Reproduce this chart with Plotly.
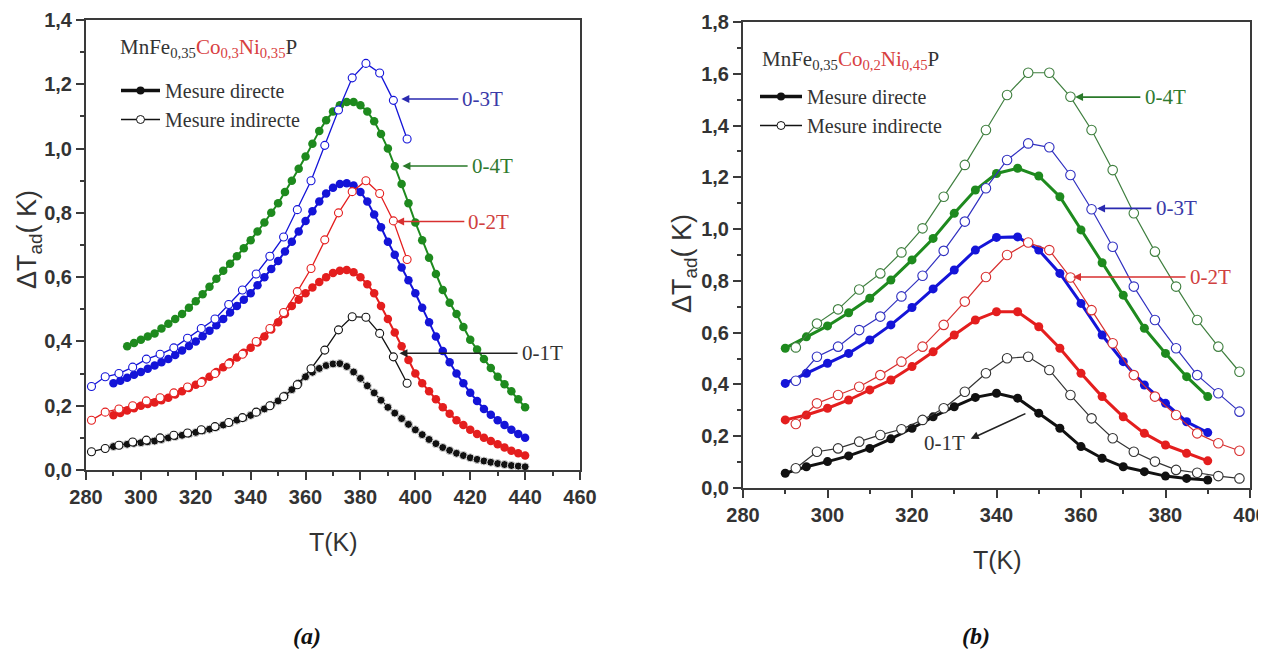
import plotly.graph_objects as go

W, H = 1266, 652
OFF = 8  # page body margin: figure pixel (x, y) is shown at (x + 8, y + 8)

def fx(px):
    return (px - OFF) / W

def fy(py):
    return 1 - (py - OFF) / H

# ---------------- Panel (a): MnFe0,35Co0,3Ni0,35P ----------------
a_T_direct = [290, 292.5, 295, 297.5, 300, 302.5, 305, 307.5, 310, 312.5,
              315, 317.5, 320, 322.5, 325, 327.5, 330, 332.5, 335, 337.5,
              340, 342.5, 345, 347.5, 350, 352.5, 355, 357.5, 360, 362.5,
              365, 367.5, 370, 372.5, 375, 377.5, 380, 382.5, 385, 387.5,
              390, 392.5, 395, 397.5, 400, 402.5, 405, 407.5, 410, 412.5,
              415, 417.5, 420, 422.5, 425, 427.5, 430, 432.5, 435, 437.5, 440]
a_T_direct_4T = a_T_direct[2:]

a_direct_4T = [0.385, 0.395, 0.405, 0.415, 0.425, 0.440, 0.455, 0.470, 0.485, 0.505,
               0.525, 0.547, 0.570, 0.595, 0.620, 0.642, 0.665, 0.690, 0.715, 0.742,
               0.770, 0.800, 0.830, 0.865, 0.900, 0.937, 0.975, 1.015, 1.055, 1.088,
               1.115, 1.135, 1.145, 1.145, 1.135, 1.115, 1.085, 1.045, 1.000, 0.945,
               0.890, 0.830, 0.770, 0.715, 0.660, 0.610, 0.560, 0.520, 0.485, 0.445,
               0.405, 0.375, 0.345, 0.317, 0.290, 0.267, 0.245, 0.220, 0.195]
a_direct_3T = [0.270, 0.278, 0.287, 0.296, 0.305, 0.315, 0.325, 0.335, 0.345, 0.358,
               0.372, 0.386, 0.400, 0.416, 0.433, 0.450, 0.470, 0.490, 0.510, 0.530,
               0.550, 0.575, 0.600, 0.625, 0.650, 0.680, 0.710, 0.742, 0.775, 0.805,
               0.835, 0.860, 0.878, 0.890, 0.892, 0.885, 0.865, 0.835, 0.795, 0.755,
               0.710, 0.670, 0.630, 0.590, 0.550, 0.505, 0.460, 0.415, 0.370, 0.335,
               0.300, 0.270, 0.240, 0.215, 0.190, 0.172, 0.155, 0.140, 0.125, 0.112,
               0.100]
a_direct_2T = [0.170, 0.177, 0.185, 0.192, 0.200, 0.205, 0.210, 0.217, 0.225, 0.235,
               0.245, 0.255, 0.265, 0.277, 0.290, 0.305, 0.320, 0.335, 0.350, 0.365,
               0.380, 0.397, 0.415, 0.437, 0.460, 0.485, 0.510, 0.530, 0.550, 0.568,
               0.585, 0.600, 0.613, 0.620, 0.622, 0.615, 0.600, 0.578, 0.550, 0.510,
               0.470, 0.428, 0.385, 0.342, 0.300, 0.270, 0.245, 0.220, 0.195, 0.175,
               0.155, 0.140, 0.125, 0.112, 0.100, 0.090, 0.080, 0.070, 0.060, 0.052,
               0.045]
a_direct_1T = [0.073, 0.077, 0.080, 0.083, 0.085, 0.088, 0.090, 0.095, 0.100, 0.104,
               0.108, 0.112, 0.117, 0.122, 0.127, 0.133, 0.140, 0.147, 0.155, 0.162,
               0.170, 0.180, 0.190, 0.202, 0.215, 0.232, 0.250, 0.270, 0.290, 0.304,
               0.316, 0.325, 0.330, 0.331, 0.322, 0.305, 0.285, 0.262, 0.240, 0.217,
               0.195, 0.177, 0.160, 0.142, 0.125, 0.110, 0.095, 0.082, 0.070, 0.061,
               0.052, 0.045, 0.038, 0.033, 0.028, 0.024, 0.020, 0.017, 0.014, 0.012,
               0.010]

a_T_indirect = [282, 287, 292, 297, 302, 307, 312, 317, 322, 327, 332, 337,
                342, 347, 352, 357, 362, 367, 372, 377, 382, 387, 392, 397]
a_indirect_3T = [0.26, 0.29, 0.30, 0.32, 0.345, 0.36, 0.38, 0.41, 0.44, 0.47, 0.515, 0.56,
                 0.61, 0.665, 0.725, 0.81, 0.90, 1.01, 1.12, 1.22, 1.265, 1.235, 1.15, 1.03]
a_indirect_2T = [0.155, 0.18, 0.19, 0.20, 0.215, 0.225, 0.24, 0.258, 0.272, 0.30, 0.33, 0.36,
                 0.40, 0.44, 0.49, 0.555, 0.627, 0.716, 0.80, 0.866, 0.90, 0.86, 0.775, 0.655]
a_indirect_1T = [0.057, 0.067, 0.077, 0.087, 0.093, 0.10, 0.108, 0.115, 0.125, 0.135, 0.148, 0.163,
                 0.18, 0.20, 0.228, 0.265, 0.315, 0.373, 0.436, 0.477, 0.475, 0.425, 0.352, 0.27]

# ---------------- Panel (b): MnFe0,35Co0,2Ni0,45P ----------------
b_T_direct = [290, 295, 300, 305, 310, 315, 320, 325, 330, 335, 340,
              345, 350, 355, 360, 365, 370, 375, 380, 385, 390]
b_direct_4T = [0.54, 0.584, 0.626, 0.677, 0.733, 0.803, 0.881, 0.964, 1.061, 1.151, 1.215,
               1.235, 1.205, 1.125, 0.997, 0.87, 0.745, 0.617, 0.52, 0.43, 0.353]
b_direct_3T = [0.404, 0.443, 0.482, 0.52, 0.572, 0.63, 0.697, 0.769, 0.842, 0.919, 0.968,
               0.97, 0.919, 0.829, 0.713, 0.591, 0.488, 0.398, 0.327, 0.256, 0.214]
b_direct_2T = [0.263, 0.282, 0.308, 0.34, 0.379, 0.417, 0.469, 0.526, 0.591, 0.649, 0.681,
               0.681, 0.623, 0.54, 0.443, 0.353, 0.275, 0.211, 0.166, 0.134, 0.105]
b_direct_1T = [0.057, 0.082, 0.102, 0.124, 0.153, 0.19, 0.231, 0.275, 0.314, 0.35, 0.366,
               0.347, 0.289, 0.231, 0.16, 0.115, 0.082, 0.063, 0.046, 0.037, 0.031]

b_T_indirect = [292.5, 297.5, 302.5, 307.5, 312.5, 317.5, 322.5, 327.5, 332.5, 337.5, 342.5,
                347.5, 352.5, 357.5, 362.5, 367.5, 372.5, 377.5, 382.5, 387.5, 392.5, 397.5]
b_indirect_4T = [0.543, 0.635, 0.69, 0.767, 0.829, 0.91, 1.003, 1.125, 1.248, 1.383, 1.518,
                 1.604, 1.604, 1.511, 1.383, 1.228, 1.061, 0.913, 0.778, 0.649, 0.546, 0.449]
b_indirect_3T = [0.414, 0.507, 0.546, 0.61, 0.662, 0.74, 0.82, 0.916, 1.029, 1.158, 1.267,
                 1.331, 1.316, 1.209, 1.077, 0.932, 0.778, 0.649, 0.54, 0.436, 0.366, 0.295]
b_indirect_2T = [0.247, 0.327, 0.359, 0.391, 0.436, 0.488, 0.546, 0.63, 0.72, 0.815, 0.90,
                 0.948, 0.919, 0.813, 0.687, 0.559, 0.436, 0.353, 0.282, 0.211, 0.173, 0.144]
b_indirect_1T = [0.076, 0.14, 0.153, 0.179, 0.205, 0.227, 0.263, 0.308, 0.372, 0.443, 0.501,
                 0.507, 0.456, 0.359, 0.269, 0.192, 0.14, 0.102, 0.07, 0.059, 0.046, 0.037]

# ticks
a_xticks = [280, 300, 320, 340, 360, 380, 400, 420, 440, 460]
a_yticks = [0, 0.2, 0.4, 0.6, 0.8, 1.0, 1.2, 1.4]
a_yticktext = ["0,0", "0,2", "0,4", "0,6", "0,8", "1,0", "1,2", "1,4"]
b_xticks = [280, 300, 320, 340, 360, 380, 400]
b_yticks = [0, 0.2, 0.4, 0.6, 0.8, 1.0, 1.2, 1.4, 1.6, 1.8]
b_yticktext = ["0,0", "0,2", "0,4", "0,6", "0,8", "1,0", "1,2", "1,4", "1,6", "1,8"]

field_labels = ["0-1T", "0-2T", "0-3T", "0-4T"]

GREEN = "#1e8a1e"
BLUE = "#1414d8"
RED = "#e41e1e"
BLACK = "#111111"

fig = go.Figure()

def direct(x, y, color, xa, ya, size, lw, outline=None):
    fig.add_trace(go.Scatter(
        x=x, y=y, mode="lines+markers", xaxis=xa, yaxis=ya, showlegend=False,
        line=dict(color=color, width=lw),
        marker=dict(symbol="circle", size=size, color=color,
                    line=dict(color=outline or color, width=1 if outline else 0)),
        cliponaxis=False))

def indirect(x, y, color, xa, ya, size, lw):
    fig.add_trace(go.Scatter(
        x=x, y=y, mode="lines+markers", xaxis=xa, yaxis=ya, showlegend=False,
        line=dict(color=color, width=lw),
        marker=dict(symbol="circle", size=size, color="white",
                    line=dict(color=color, width=1.1)),
        cliponaxis=False))

# panel (a)
direct(a_T_direct_4T, a_direct_4T, GREEN, "x", "y", 8.5, 2)
direct(a_T_direct, a_direct_3T, BLUE, "x", "y", 8.5, 2)
direct(a_T_direct, a_direct_2T, RED, "x", "y", 8.5, 2)
direct(a_T_direct, a_direct_1T, BLACK, "x", "y", 8, 1.5, outline="#dddddd")
indirect(a_T_indirect, a_indirect_3T, BLUE, "x", "y", 8, 1.3)
indirect(a_T_indirect, a_indirect_2T, RED, "x", "y", 8, 1.3)
indirect(a_T_indirect, a_indirect_1T, BLACK, "x", "y", 8, 1.3)

# panel (b)
direct(b_T_direct, b_direct_4T, GREEN, "x2", "y2", 9, 3)
direct(b_T_direct, b_direct_3T, BLUE, "x2", "y2", 9, 3)
direct(b_T_direct, b_direct_2T, RED, "x2", "y2", 9, 3)
direct(b_T_direct, b_direct_1T, BLACK, "x2", "y2", 9, 3)
indirect(b_T_indirect, b_indirect_4T, "#3f7f3f", "x2", "y2", 9.5, 1.2)
indirect(b_T_indirect, b_indirect_3T, "#3030c0", "x2", "y2", 9.5, 1.2)
indirect(b_T_indirect, b_indirect_2T, "#d83030", "x2", "y2", 9.5, 1.2)
indirect(b_T_indirect, b_indirect_1T, "#333333", "x2", "y2", 9.5, 1.2)

# legend entries
for lg, xa, ya in (("legend", "x", "y"), ("legend2", "x2", "y2")):
    fig.add_trace(go.Scatter(x=[None], y=[None], xaxis=xa, yaxis=ya, mode="lines+markers",
                             name="Mesure directe", legend=lg,
                             line=dict(color=BLACK, width=3.5),
                             marker=dict(size=8, color=BLACK)))
    fig.add_trace(go.Scatter(x=[None], y=[None], xaxis=xa, yaxis=ya, mode="lines+markers",
                             name="Mesure indirecte", legend=lg,
                             line=dict(color=BLACK, width=1.5),
                             marker=dict(size=8, color="white", line=dict(color=BLACK, width=1))))

AX = "#3a3a3a"
TICKFONT = dict(family="Liberation Sans", size=20, color="#333333", weight=700)

def axis(domain, rng, tickvals, ticktext, minor_dtick, anchor, tick0):
    return dict(domain=domain, range=rng, anchor=anchor, tickmode="array", automargin=False,
                tickvals=tickvals, ticktext=ticktext, ticks="outside", ticklen=8,
                tickwidth=2, tickcolor=AX, showline=True, linecolor=AX, linewidth=2,
                mirror=True, showgrid=False, zeroline=False, tickfont=TICKFONT,
                minor=dict(tickmode="linear", tick0=tick0, dtick=minor_dtick, ticks="outside",
                           ticklen=4, tickwidth=1.5, tickcolor=AX, showgrid=False))

LEGFONT = dict(family="Liberation Serif", size=20, color="#333333")
fig.update_layout(
    width=W, height=H, margin=dict(l=0, r=0, t=0, b=0, autoexpand=False),
    paper_bgcolor="white", plot_bgcolor="white",
    xaxis=axis([fx(86), fx(580)], [280, 460], a_xticks, [str(v) for v in a_xticks], 10, "y", 280),
    yaxis=axis([fy(470), fy(20)], [0, 1.4], a_yticks, a_yticktext, 0.1, "x", 0),
    xaxis2=axis([fx(743), fx(1250)], [280, 400], b_xticks, [str(v) for v in b_xticks], 10, "y2", 280),
    yaxis2=axis([fy(488), fy(22)], [0, 1.8], b_yticks, b_yticktext, 0.1, "x2", 0),
    legend=dict(x=fx(116), y=fy(71), xanchor="left", yanchor="top", bgcolor="rgba(0,0,0,0)",
                font=LEGFONT, tracegroupgap=0, itemwidth=39),
    legend2=dict(x=fx(755), y=fy(77), xanchor="left", yanchor="top", bgcolor="rgba(0,0,0,0)",
                 font=LEGFONT, tracegroupgap=0, itemwidth=42),
)

ann = []
SERIF = "Liberation Serif"
SANS = "Liberation Sans"
# compound labels
ann.append(dict(xref="paper", yref="paper", x=fx(118), y=fy(48), xanchor="left", yanchor="middle",
                showarrow=False, font=dict(family=SERIF, size=21, color="#333333"),
                text='MnFe<sub>0,35</sub><span style="color:#d84040">Co<sub>0,3</sub>Ni<sub>0,35</sub></span>P'))
ann.append(dict(xref="paper", yref="paper", x=fx(760), y=fy(60), xanchor="left", yanchor="middle",
                showarrow=False, font=dict(family=SERIF, size=21, color="#333333"),
                text='MnFe<sub>0,35</sub><span style="color:#d84040">Co<sub>0,2</sub>Ni<sub>0,45</sub></span>P'))
# axis titles
for xp, yp in ((29, 240), (684, 264)):
    ann.append(dict(xref="paper", yref="paper", x=fx(xp), y=fy(yp), showarrow=False,
                    xanchor="center", yanchor="middle",
                    textangle=-90, font=dict(family=SANS, size=27, color="#333333"),
                    text="ΔT<sub>ad</sub>( K)"))
for xp, yp in ((333, 542), (997, 560)):
    ann.append(dict(xref="paper", yref="paper", x=fx(xp), y=fy(yp), showarrow=False,
                    xanchor="center", yanchor="middle",
                    font=dict(family=SANS, size=25, color="#333333"), text="T(K)"))
for xp, t in ((307, "(a)"), (976, "(b)")):
    ann.append(dict(xref="paper", yref="paper", x=fx(xp), y=fy(636), showarrow=False,
                    xanchor="center", yanchor="middle",
                    font=dict(family=SERIF, size=24, color="#111111"), text="<b><i>%s</i></b>" % t))

# arrows + field labels
def arrow(xa, ya, head, tail, color):
    ann.append(dict(xref=xa, yref=ya, axref=xa, ayref=ya, x=head[0], y=head[1], ax=tail[0], ay=tail[1],
                    text="", showarrow=True, arrowhead=2, arrowsize=1, arrowwidth=1.6,
                    arrowcolor=color, standoff=0, startstandoff=0))

def label(xa, ya, x, y, text, color):
    ann.append(dict(xref=xa, yref=ya, x=x, y=y, xanchor="left", yanchor="middle", showarrow=False,
                    text=text, font=dict(family=SERIF, size=21, color=color)))

arrow("x", "y", (394.9, 1.154), (416.2, 1.154), "#2a2ab0")
label("x", "y", 416.4, 1.154, field_labels[2], "#3a3aa8")
arrow("x", "y", (395.3, 0.946), (419.6, 0.946), "#2a7a2a")
label("x", "y", 419.8, 0.946, field_labels[3], "#2f7a2f")
arrow("x", "y", (393.0, 0.773), (418.4, 0.773), "#d83030")
label("x", "y", 418.6, 0.773, field_labels[1], "#d04040")
arrow("x", "y", (394.2, 0.363), (437.8, 0.363), "#222222")
label("x", "y", 438.0, 0.363, field_labels[0], "#333333")

arrow("x2", "y2", (358.6, 1.51), (374.4, 1.51), "#2a7a2a")
label("x2", "y2", 374.6, 1.51, field_labels[3], "#2f7a2f")
arrow("x2", "y2", (363.8, 1.08), (377.0, 1.08), "#2a2ab0")
label("x2", "y2", 377.2, 1.08, field_labels[2], "#3a3aa8")
arrow("x2", "y2", (358.1, 0.815), (385.1, 0.815), "#d83030")
label("x2", "y2", 385.3, 0.815, field_labels[1], "#d04040")
arrow("x2", "y2", (333.9, 0.19), (347.2, 0.29), "#222222")
label("x2", "y2", 322.4, 0.174, field_labels[0], "#333333")

fig.update_layout(annotations=ann)
fig.write_html("out.html")
